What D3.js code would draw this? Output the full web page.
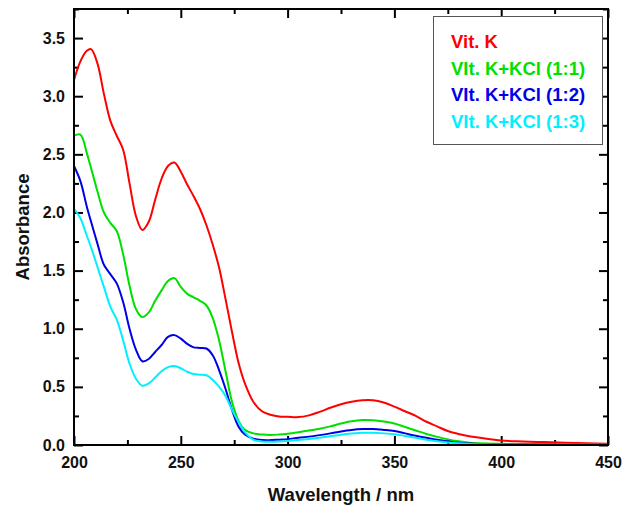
<!DOCTYPE html>
<html>
<head>
<meta charset="utf-8">
<script src="https://cdn.jsdelivr.net/npm/d3@7"></script>
<style>
  body { margin: 0; background: #fff; }
  text { font-family: "Liberation Sans", Arial, sans-serif; font-weight: bold; }
</style>
</head>
<body>
<div id="chart"></div>
<script>
var wavelength = [200,203,206,208,211,214,217,220,223,226,229,232,235,238,241,244,247,250,253,256,259,262,265,268,271,274,277,280,284,288,292,296,300,305,310,315,320,325,330,335,340,345,350,355,360,365,370,375,380,385,390,400,410,420,430,440,450];

var vitK = [3.14,3.30,3.39,3.405,3.28,3.02,2.79,2.66,2.54,2.25,1.97,1.85,1.92,2.11,2.29,2.40,2.43,2.35,2.24,2.14,2.03,1.89,1.72,1.52,1.25,0.97,0.71,0.53,0.37,0.29,0.26,0.245,0.243,0.24,0.255,0.285,0.32,0.35,0.372,0.385,0.385,0.365,0.33,0.29,0.25,0.20,0.16,0.12,0.095,0.075,0.062,0.038,0.03,0.025,0.02,0.015,0.01];
var vitK11 = [2.66,2.67,2.51,2.38,2.18,2.00,1.91,1.84,1.64,1.37,1.17,1.10,1.14,1.24,1.33,1.41,1.435,1.36,1.30,1.27,1.24,1.20,1.09,0.895,0.63,0.37,0.21,0.13,0.10,0.09,0.086,0.09,0.097,0.11,0.125,0.14,0.16,0.185,0.205,0.215,0.213,0.202,0.185,0.155,0.125,0.095,0.07,0.048,0.032,0.02,0.014,0.01,0.008,0.006,0.005,0.004,0.004];
var vitK12 = [2.40,2.27,2.05,1.92,1.73,1.55,1.47,1.39,1.23,1.00,0.82,0.72,0.74,0.80,0.86,0.93,0.945,0.915,0.87,0.84,0.835,0.83,0.77,0.64,0.48,0.30,0.16,0.09,0.055,0.043,0.042,0.046,0.05,0.063,0.072,0.085,0.10,0.117,0.13,0.137,0.137,0.13,0.12,0.10,0.08,0.062,0.045,0.032,0.02,0.013,0.009,0.006,0.005,0.004,0.003,0.003,0.003];
var vitK13 = [2.03,1.95,1.80,1.70,1.53,1.36,1.19,1.08,0.90,0.70,0.57,0.51,0.53,0.58,0.635,0.67,0.68,0.66,0.63,0.61,0.605,0.60,0.56,0.50,0.42,0.30,0.20,0.11,0.045,0.03,0.028,0.03,0.035,0.043,0.052,0.062,0.075,0.088,0.098,0.105,0.105,0.10,0.092,0.078,0.062,0.045,0.032,0.022,0.014,0.009,0.006,0.004,0.003,0.003,0.003,0.003,0.003];

var seriesNames = ["Vit. K","VIt. K+KCl (1:1)","VIt. K+KCl (1:2)","VIt. K+KCl (1:3)"];
var colors = ["#ff0000","#00e000","#0000e6","#00f0ff"];
var seriesValues = [vitK, vitK11, vitK12, vitK13];

var xMajor = [200,250,300,350,400,450];
var xMinor = [225,275,325,375,425];
var yMajor = [0,0.5,1.0,1.5,2.0,2.5,3.0,3.5];
var yMinor = [0.25,0.75,1.25,1.75,2.25,2.75,3.25,3.75];

var width = 625, height = 511;
var mLeft = 74, mRight = 608, mTop = 9, mBottom = 445;

var svg = d3.select("#chart").append("svg")
    .attr("width", width)
    .attr("height", height);

var x = d3.scaleLinear().domain([200,450]).range([mLeft,mRight]);
var y = d3.scaleLinear().domain([0,3.75]).range([mBottom,mTop]);

// ticks, all pointing inward
function tickAxis(axis, pos, size, vals, labels, pad) {
  var g = svg.append("g")
      .attr("transform", pos)
      .call(axis.tickValues(vals).tickSize(size).tickPadding(pad || 0)
        .tickFormat(labels ? labels : ""));
  g.select(".domain").remove();
  g.selectAll("line").attr("stroke","#000").attr("stroke-width",2);
  g.selectAll("text").attr("fill","#111").style("font-size","16px");
  return g;
}

tickAxis(d3.axisBottom(x), "translate(0," + mBottom + ")", -9, xMajor, d3.format("d"), 12);
tickAxis(d3.axisBottom(x), "translate(0," + mBottom + ")", -5, xMinor, null);
tickAxis(d3.axisTop(x), "translate(0," + mTop + ")", -9, xMajor, null);
tickAxis(d3.axisTop(x), "translate(0," + mTop + ")", -5, xMinor, null);
tickAxis(d3.axisLeft(y), "translate(" + mLeft + ",0)", -9, yMajor, d3.format(".1f"), 9);
tickAxis(d3.axisLeft(y), "translate(" + mLeft + ",0)", -5, yMinor, null);
tickAxis(d3.axisRight(y), "translate(" + mRight + ",0)", -9, yMajor, null);
tickAxis(d3.axisRight(y), "translate(" + mRight + ",0)", -5, yMinor, null);

var line = d3.line()
    .x(function(d, i) { return x(wavelength[i]); })
    .y(function(d) { return y(d); })
    .curve(d3.curveCatmullRom.alpha(0.5));

svg.selectAll(".series")
    .data(seriesValues)
  .enter().append("path")
    .attr("class","series")
    .attr("d", line)
    .attr("fill","none")
    .attr("stroke", function(d, i) { return colors[i]; })
    .attr("stroke-width", 2);

// frame
svg.append("rect")
    .attr("x", mLeft)
    .attr("y", mTop)
    .attr("width", mRight - mLeft)
    .attr("height", mBottom - mTop)
    .attr("fill","none")
    .attr("stroke","#000")
    .attr("stroke-width",2);

svg.append("text")
    .attr("x", (mLeft + mRight) / 2)
    .attr("y", 501)
    .attr("text-anchor","middle")
    .style("font-size","18.5px")
    .attr("fill","#111")
    .text("Wavelength / nm");

svg.append("text")
    .attr("transform","translate(29," + (mTop + mBottom) / 2 + ") rotate(-90)")
    .attr("text-anchor","middle")
    .style("font-size","18.5px")
    .attr("fill","#111")
    .text("Absorbance");

// legend
svg.append("rect")
    .attr("x", 433.5)
    .attr("y", 16.5)
    .attr("width", 169)
    .attr("height", 128)
    .attr("fill","#fff")
    .attr("stroke","#555")
    .attr("stroke-width",1);

var legend = svg.selectAll(".legend")
    .data(seriesNames)
  .enter().append("text")
    .attr("class","legend")
    .attr("x", 451)
    .attr("y", function(d, i) { return 48 + 26.5 * i; })
    .style("font-size","18.5px")
    .attr("fill", function(d, i) { return colors[i]; })
    .text(function(d) { return d; });
</script>
</body>
</html>
